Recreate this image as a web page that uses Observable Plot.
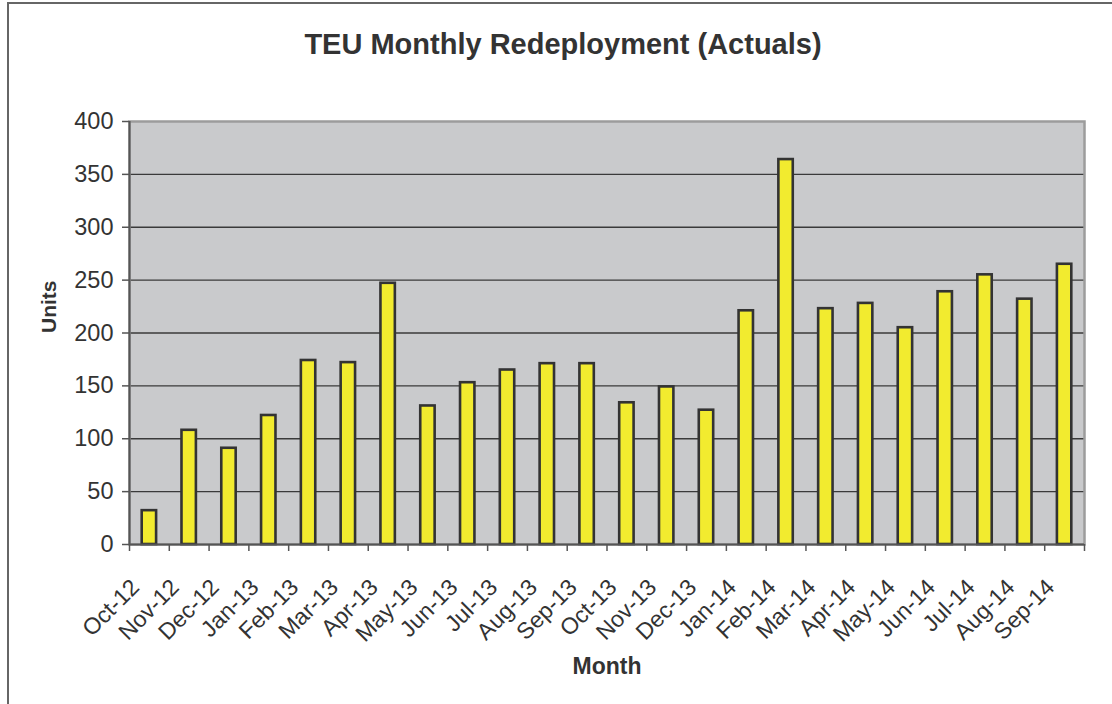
<!DOCTYPE html>
<html>
<head>
<meta charset="utf-8">
<script src="https://cdn.jsdelivr.net/npm/d3@7"></script>
<script src="https://cdn.jsdelivr.net/npm/@observablehq/plot@0.6"></script>
<style>
  html, body { margin: 0; padding: 0; background: #fff; }
  #wrap { position: relative; width: 1112px; height: 704px; overflow: hidden; font-family: "Liberation Sans", Arial, sans-serif; }
  #border { position: absolute; left: 7px; top: 2px; width: 1200px; height: 800px; border-left: 2px solid #666; border-top: 2px solid #666; }
  #title { position: absolute; left: 0; top: 0; width: 1112px; height: 100px; text-align: center; font-weight: bold; font-size: 29px; line-height: 29px; color: #333; padding-top: 30px; padding-left: 14px; box-sizing: border-box; }
  #chart { position: absolute; left: 0; top: 100px; }
</style>
</head>
<body>
<div id="wrap">
  <div id="border"></div>
  <div id="title">TEU Monthly Redeployment (Actuals)</div>
  <div id="chart"></div>
</div>
<script>
const months = ["Oct-12","Nov-12","Dec-12","Jan-13","Feb-13","Mar-13","Apr-13","May-13","Jun-13","Jul-13","Aug-13","Sep-13",
                "Oct-13","Nov-13","Dec-13","Jan-14","Feb-14","Mar-14","Apr-14","May-14","Jun-14","Jul-14","Aug-14","Sep-14"];
const units = [32, 108, 91, 122, 174, 172, 247, 131, 153, 165, 171, 171,
               134, 149, 127, 221, 364, 223, 228, 205, 239, 255, 232, 265];
const yTicks = [0, 50, 100, 150, 200, 250, 300, 350, 400];

const data = months.map((m, i) => ({month: m, value: units[i]}));

const W = 1112, H = 604, mL = 129, mR = 28, mT = 21, mB = 160;
const step = (W - mL - mR) / months.length;
const barW = 14.4;
const inset = (step - barW) / 2;
const textColor = "#333";

const chart = Plot.plot({
  width: W,
  height: H,
  marginLeft: mL,
  marginRight: mR,
  marginTop: mT,
  marginBottom: mB,
  style: {fontFamily: "'Liberation Sans', Arial, sans-serif", color: textColor, background: "transparent"},
  x: {domain: months, padding: 0, round: false},
  y: {domain: [0, 400]},
  marks: [
    Plot.frame({fill: "#c9cacc", stroke: null}),
    Plot.gridY(yTicks.filter(t => t > 0 && t < 400), {stroke: "#3a3a3a", strokeOpacity: 1, strokeWidth: 1.4}),
    Plot.frame({stroke: "#9c9c9c", strokeWidth: 2.5}),
    Plot.barY(data, {x: "month", y: "value", insetLeft: inset, insetRight: inset, fill: "#f2eb2f", stroke: "#333", strokeWidth: 2.6}),
    Plot.ruleY([0], {stroke: "#555", strokeWidth: 2}),
    Plot.ruleX([months[0]], {dx: -step / 2, stroke: "#555", strokeWidth: 2}),
    Plot.ruleX(months, {x: d => d, y1: 0, y2: 0, insetBottom: -7, dx: -step / 2, stroke: "#555", strokeWidth: 1.5}),
    Plot.ruleX([months[months.length - 1]], {x: d => d, y1: 0, y2: 0, insetBottom: -7, dx: step / 2, stroke: "#555", strokeWidth: 1.5}),
    Plot.axisY({ticks: yTicks, tickSize: 7, tickPadding: 9, fontSize: 23.5, label: null, stroke: "#555", strokeWidth: 1.5}),
    Plot.axisX({tickRotate: -45, tickSize: 0, tickPadding: 0, fontSize: 23, label: null, dx: -14, dy: 39}),
    Plot.text(["Units"], {frameAnchor: "left", dx: -80, rotate: -90, text: d => d, fontSize: 21, fontWeight: "bold", fill: textColor}),
    Plot.text(["Month"], {frameAnchor: "bottom", dy: 129, text: d => d, fontSize: 23, fontWeight: "bold", fill: textColor})
  ]
});
document.getElementById("chart").appendChild(chart);
</script>
</body>
</html>
